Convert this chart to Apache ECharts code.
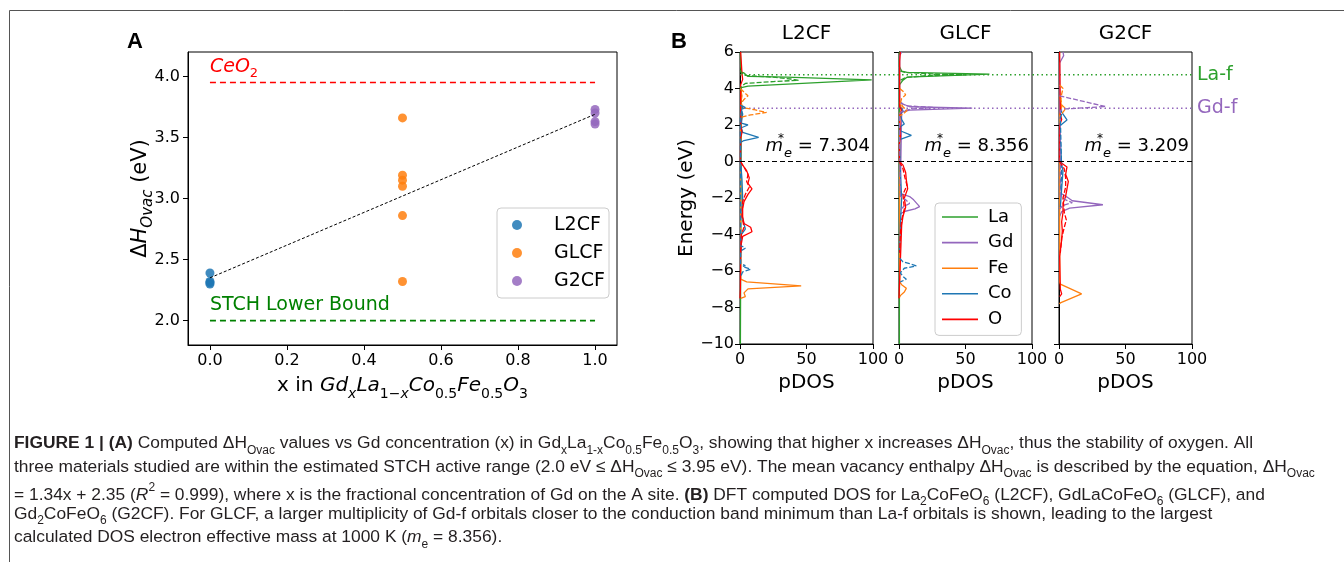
<!DOCTYPE html>
<html>
<head>
<meta charset="utf-8">
<script src="https://cdn.jsdelivr.net/npm/echarts@6/dist/echarts.min.js"></script>
<style>
  html, body { margin: 0; padding: 0; background: #fff; }
  #chart { width: 1344px; height: 562px; }
</style>
</head>
<body>
<div id="chart"></div>
<script>
// ---- panel A: vacancy enthalpy vs Gd fraction ----
const gdFraction = [0, 0.5, 1.0];
const hL2CF = [2.39, 2.32, 2.31, 2.30];
const hGLCF = [3.66, 3.19, 3.15, 3.10, 2.86, 2.32];
const hG2CF = [3.73, 3.70, 3.63, 3.61];
const fitLine = [[0, 2.35], [1, 3.69]];
const ceo2Level = 3.95;
const stchLevel = 2.0;
const xTicksA = [0, 0.2, 0.4, 0.6, 0.8, 1.0];
const yTicksA = [2.0, 2.5, 3.0, 3.5, 4.0];

// ---- panel B: projected DOS, points are [energy, pDOS] ----
const materials = ['L2CF', 'GLCF', 'G2CF'];
const effMass = ['7.304', '8.356', '3.209'];
const laF = 4.75;
const gdF = 2.92;

const l2cf_La_up = [[6, 0.3], [5.2, 0.5], [4.9, 1], [4.85, 3], [4.75, 2], [4.66, 6], [4.62, 35], [4.47, 99], [4.13, 6], [4.05, 1], [3.95, 0.3], [-10, 0.3]];
const l2cf_La_dn = [[5.0, 0.3], [4.85, 1], [4.72, 4], [4.62, 25], [4.52, 38], [4.45, 44], [4.38, 25], [4.28, 4], [4.1, 1], [3.9, 0.3]];
const l2cf_Fe_up = [[4.0, 0.3], [3.6, 1.5], [3.2, 0.5], [-6.45, 0.5], [-6.5, 1], [-6.6, 5], [-6.81, 46], [-6.98, 6], [-7.2, 3], [-7.4, 4], [-7.5, 0.5]];
const l2cf_Fe_dn = [[4.0, 0.3], [3.8, 3], [3.6, 6], [3.4, 3], [3.2, 1], [2.95, 2], [2.85, 10], [2.69, 20], [2.55, 8], [2.45, 2], [2.3, 0.3]];
const l2cf_Co_up = [[3.1, 0.5], [2.95, 4], [2.85, 1], [2.6, 2], [2.1, 1], [2.0, 6], [1.85, 1], [1.6, 2], [1.32, 14], [1.15, 3], [1.05, 0.5], [0, 0.5], [-1, 1.5], [-2, 2], [-3, 1.5], [-3.7, 4], [-4, 1], [-5, 0.5]];
const l2cf_Co_dn = [[3.1, 0.3], [3.0, 2], [2.7, 1], [2.4, 0.3], [-4.6, 0.5], [-4.75, 4], [-4.9, 0.5], [-5.6, 0.5], [-5.7, 4], [-5.75, 2], [-5.9, 8], [-6.05, 2], [-6.3, 0.5]];
const l2cf_O_up = [[6, 0.5], [4.8, 1.5], [4.5, 2], [4.2, 0.5], [2.0, 0.5], [1.6, 1.5], [1.3, 0.5], [0.0, 0.3], [-0.2, 2], [-0.5, 5], [-0.9, 7], [-1.2, 6], [-1.5, 9], [-1.8, 6], [-2.2, 3], [-2.6, 2], [-3.0, 2], [-3.4, 3], [-3.6, 8], [-3.85, 9], [-4.1, 2], [-4.5, 1], [-5, 0.5], [-7, 0.3], [-7.5, 0]];
const l2cf_O_dn = [[0, 0.3], [-0.3, 3], [-0.7, 6], [-1.1, 5], [-1.4, 7], [-1.8, 4], [-2.2, 2], [-3, 1.5], [-3.6, 3], [-4, 1], [-5, 0.5]];

const glcf_La_up = [[6, 0.3], [5.2, 0.3], [4.95, 2], [4.88, 6], [4.79, 68], [4.62, 6], [4.46, 3], [4.2, 0.3], [-10, 0.3]];
const glcf_La_dn = [[4.95, 1], [4.88, 5], [4.8, 25], [4.75, 50], [4.7, 20], [4.6, 5], [4.45, 1]];
const glcf_Gd_up = [[6, 2], [5.8, 0.5], [3.3, 0.5], [3.15, 3], [3.0, 8], [2.92, 55], [2.82, 8], [2.7, 2], [2.6, 0.5], [-1.75, 1], [-1.92, 8], [-2.1, 11], [-2.47, 15.5], [-2.6, 12], [-2.74, 4], [-2.9, 0.5]];
const glcf_Gd_dn = [[3.2, 1], [3.05, 6], [2.95, 28], [2.88, 10], [2.75, 2], [2.6, 0.3], [-1.9, 1], [-2.1, 5], [-2.3, 8], [-2.5, 3], [-2.7, 0.5]];
const glcf_Fe_up = [[3.2, 0.3], [2.9, 2], [2.6, 0.5], [-6.6, 0.5], [-6.75, 2], [-6.95, 5.5], [-7.15, 4], [-7.35, 1], [-7.45, 0.3]];
const glcf_Fe_dn = [[4.0, 0.5], [3.85, 3], [3.65, 5], [3.45, 2], [3.2, 1], [3.0, 3], [2.8, 6], [2.6, 3], [2.5, 0.5]];
const glcf_Co_up = [[3.0, 0.5], [2.8, 3], [2.55, 1], [2.3, 2], [2.05, 4], [1.9, 1], [1.7, 0.5], [1.43, 9.3], [1.2, 0.5], [-0.5, 1], [-2, 2], [-3.5, 1], [-5, 0.5]];
const glcf_Co_dn = [[-5.3, 0.5], [-5.5, 3], [-5.6, 8], [-5.72, 13], [-5.85, 4], [-6.1, 1], [-6.3, 3], [-6.45, 5.5], [-6.6, 1]];
const glcf_O_up = [[6, 1], [5.5, 0.5], [3.0, 0.5], [2.8, 2], [2.5, 0.5], [1.3, 1], [1.0, 0.3], [0, 0.3], [-0.2, 3], [-0.6, 5], [-1.0, 5.5], [-1.5, 6.5], [-2.0, 4], [-2.5, 5], [-3.0, 3], [-3.5, 2], [-4.5, 1.5], [-5.5, 1], [-6.5, 0.5], [-7.5, 0]];
const glcf_O_dn = [[0, 0.3], [-0.4, 3], [-0.9, 4.5], [-1.3, 6], [-1.8, 3], [-2.6, 4], [-3.2, 2], [-4, 1], [-5, 0.5]];

const g2cf_Gd_up = [[6, 3], [5.8, 3.5], [5.6, 2], [5.4, 0.5], [-1.7, 0.5], [-1.95, 6], [-2.15, 10], [-2.37, 33], [-2.55, 8], [-2.75, 2], [-3, 0.5]];
const g2cf_Gd_dn = [[3.6, 0.3], [3.56, 1], [3.01, 35], [2.88, 5], [2.8, 1], [-1.9, 1], [-2.1, 5], [-2.25, 10], [-2.4, 3], [-2.6, 0.5]];
const g2cf_Fe_up = [[3.6, 0.5], [3.0, 2], [2.6, 0.5], [-6.6, 0.5], [-6.72, 1], [-7.25, 17], [-7.75, 1], [-7.8, 0.3]];
const g2cf_Fe_dn = [[4.2, 0.5], [4.0, 3], [3.7, 2], [3.4, 1.5], [3.1, 2], [2.9, 5], [2.7, 3], [2.5, 1]];
const g2cf_Co_up = [[2.9, 1], [2.7, 2], [2.28, 6], [2.1, 3], [1.95, 0.5], [-0.2, 2], [-0.5, 3], [-1.5, 2], [-2.5, 1]];
const g2cf_Co_dn = [[2.6, 2], [2.4, 1], [-0.5, 2], [-1.5, 1.5]];
const g2cf_O_up = [[6, 0.5], [2.6, 1], [2.3, 2], [2.0, 0.5], [0, 0.3], [-0.3, 6], [-0.7, 5], [-1.1, 7], [-1.5, 6], [-1.9, 5], [-2.3, 3], [-2.8, 3], [-3.3, 2], [-3.8, 2.5], [-4.3, 2], [-4.9, 1], [-5.2, 0.5], [-7.0, 1], [-7.25, 2], [-7.4, 0.5]];
const g2cf_O_dn = [[0, 0.3], [-0.4, 4], [-0.9, 5], [-1.4, 5], [-2, 3], [-2.8, 4], [-3.2, 5.5], [-3.6, 4], [-4.2, 2], [-5, 1]];

const elements = ['La', 'Gd', 'Fe', 'Co', 'O'];
const elColors = { La: '#2ca02c', Gd: '#9467bd', Fe: '#ff7f0e', Co: '#1f77b4', O: '#ff0000' };

// panel, element, solid (up) curve, dashed (down) curve
const dosCurves = [
  [0, 'La', l2cf_La_up, l2cf_La_dn],
  [0, 'Fe', l2cf_Fe_up, l2cf_Fe_dn],
  [0, 'Co', l2cf_Co_up, l2cf_Co_dn],
  [0, 'O', l2cf_O_up, l2cf_O_dn],
  [1, 'La', glcf_La_up, glcf_La_dn],
  [1, 'Gd', glcf_Gd_up, glcf_Gd_dn],
  [1, 'Fe', glcf_Fe_up, glcf_Fe_dn],
  [1, 'Co', glcf_Co_up, glcf_Co_dn],
  [1, 'O', glcf_O_up, glcf_O_dn],
  [2, 'Gd', g2cf_Gd_up, g2cf_Gd_dn],
  [2, 'Fe', g2cf_Fe_up, g2cf_Fe_dn],
  [2, 'Co', g2cf_Co_up, g2cf_Co_dn],
  [2, 'O', g2cf_O_up, g2cf_O_dn]
];

const FONT = 'DejaVu Sans';
const minus = v => String(v).replace('-', '\u2212');

const chart = echarts.init(document.getElementById('chart'), null, { renderer: 'canvas' });

const dosLeft = [740, 899, 1059];
const grids = [
  { left: 188, top: 52, width: 429, height: 293 },
  ...dosLeft.map(l => ({ left: l, top: 52, width: 133, height: 292 })),
  { left: 740, top: 52, width: 452, height: 292 }
].map(g => Object.assign({ show: g.width !== 452, borderColor: '#000', borderWidth: 1, backgroundColor: 'transparent', containLabel: false }, g));

const tickStyle = { show: true, length: 5, lineStyle: { color: '#000', width: 1 } };
const labelStyle = { color: '#000', fontFamily: FONT, fontSize: 16 };
const lineAxis = { onZero: false, lineStyle: { color: '#000' } };

const richMain = (size, extra) => Object.assign({ fontFamily: FONT, fontSize: size, color: '#000', lineHeight: 30, verticalAlign: 'middle' }, extra || {});
const richSub = (size, extra) => Object.assign({ fontFamily: FONT, fontSize: size, color: '#000', lineHeight: 14, verticalAlign: 'bottom' }, extra || {});

const xAxes = [
  {
    gridIndex: 0, type: 'value', min: -0.057, max: 1.057,
    axisLine: lineAxis,
    axisTick: Object.assign({ customValues: xTicksA }, tickStyle),
    axisLabel: Object.assign({ customValues: xTicksA, formatter: v => v.toFixed(1), margin: 8 }, labelStyle),
    splitLine: { show: false },
    name: '{n|x in }{i|Gd}{si|x}{i|La}{s|1\u2212}{si|x}{i|Co}{s|0.5}{i|Fe}{s|0.5}{i|O}{s|3}',
    nameLocation: 'middle', nameGap: 26,
    nameTextStyle: {
      rich: {
        n: richMain(20), i: richMain(20, { fontStyle: 'italic' }),
        s: richSub(14), si: richSub(14, { fontStyle: 'italic' })
      }
    }
  },
  ...materials.map((m, k) => ({
    gridIndex: k + 1, type: 'value', min: 0, max: 100, interval: 50,
    axisLine: lineAxis,
    axisTick: tickStyle,
    axisLabel: Object.assign({ showMinLabel: true, showMaxLabel: true, margin: 8 }, labelStyle),
    splitLine: { show: false },
    name: 'pDOS', nameLocation: 'middle', nameGap: 29,
    nameTextStyle: { fontFamily: FONT, fontSize: 20, color: '#000' }
  })),
  { gridIndex: 4, type: 'value', min: 0, max: 1, show: false }
];

const yAxes = [
  {
    gridIndex: 0, type: 'value', min: 1.8, max: 4.2,
    axisLine: lineAxis,
    axisTick: Object.assign({ customValues: yTicksA }, tickStyle),
    axisLabel: Object.assign({ customValues: yTicksA, formatter: v => v.toFixed(1), margin: 8 }, labelStyle),
    splitLine: { show: false },
    name: '{n|\u0394}{i|H}{si|Ovac}{n| (eV)}',
    nameLocation: 'middle', nameGap: 32, nameRotate: 90, nameMoveOverlap: false,
    nameTextStyle: {
      rich: {
        n: richMain(21), i: richMain(21, { fontStyle: 'italic' }),
        si: richSub(15, { fontStyle: 'italic' })
      }
    }
  },
  ...materials.map((m, k) => ({
    gridIndex: k + 1, type: 'value', min: -10, max: 6, interval: 2,
    axisLine: lineAxis,
    axisTick: tickStyle,
    axisLabel: Object.assign({ show: k === 0, formatter: minus, margin: 6 }, labelStyle),
    splitLine: { show: false },
    name: k === 0 ? 'Energy (eV)' : '', nameLocation: 'middle', nameGap: 40,
    nameTextStyle: { fontFamily: FONT, fontSize: 20, color: '#000' }
  })),
  { gridIndex: 4, type: 'value', min: -10, max: 6, show: false }
];

const series = [];

// panel A lines
series.push({
  type: 'line', name: 'CeO2', xAxisIndex: 0, yAxisIndex: 0, symbol: 'none', silent: true,
  data: [[0, ceo2Level], [1, ceo2Level]],
  lineStyle: { color: '#ff0000', width: 1.6, type: [6, 4] },
  markPoint: {
    symbol: 'circle', symbolSize: 0, silent: true,
    data: [{ coord: [0, ceo2Level] }],
    label: {
      show: true, position: [0, -2], align: 'left', verticalAlign: 'bottom',
      formatter: '{i|CeO}{s|2}',
      rich: {
        i: richMain(19, { color: '#ff0000', fontStyle: 'italic', lineHeight: 26 }),
        s: richSub(13, { color: '#ff0000', lineHeight: 13 })
      }
    }
  }
});
series.push({
  type: 'line', name: 'STCH', xAxisIndex: 0, yAxisIndex: 0, symbol: 'none', silent: true,
  data: [[0, stchLevel], [1, stchLevel]],
  lineStyle: { color: '#008000', width: 1.6, type: [6, 4] },
  markPoint: {
    symbol: 'circle', symbolSize: 0, silent: true,
    data: [{ coord: [0, stchLevel] }],
    label: {
      show: true, position: [0, -6], align: 'left', verticalAlign: 'bottom',
      formatter: 'STCH Lower Bound', color: '#008000', fontFamily: FONT, fontSize: 19
    }
  }
});
series.push({
  type: 'line', name: 'fit', xAxisIndex: 0, yAxisIndex: 0, symbol: 'none', silent: true,
  data: fitLine, lineStyle: { color: '#000', width: 1, type: [3, 2] }, z: 3
});
[['L2CF', hL2CF, gdFraction[0], '#1f77b4'], ['GLCF', hGLCF, gdFraction[1], '#ff7f0e'], ['G2CF', hG2CF, gdFraction[2], '#9467bd']]
  .forEach(([name, vals, x, color]) => {
    series.push({
      type: 'scatter', name, xAxisIndex: 0, yAxisIndex: 0, symbolSize: 9,
      itemStyle: { color, opacity: 0.85 }, z: 2,
      data: vals.map(v => [x, v])
    });
  });

// panel B curves: solid first so the legend picks them up
['up', 'dn'].forEach(spin => {
  elements.forEach(el => {
    dosCurves.filter(c => c[1] === el).forEach(([p, , up, dn]) => {
      const pts = spin === 'up' ? up : dn;
      series.push({
        type: 'line', name: spin === 'up' ? el : el + ' dn',
        xAxisIndex: p + 1, yAxisIndex: p + 1, symbol: 'none', silent: true,
        data: pts.map(([e, d]) => [d, e]),
        itemStyle: { color: elColors[el] },
        lineStyle: { color: elColors[el], width: 1.3, type: spin === 'up' ? 'solid' : [5, 2] }
      });
    });
  });
});

// Fermi level and effective mass per panel
materials.forEach((m, k) => {
  series.push({
    type: 'line', name: 'EF' + k, xAxisIndex: k + 1, yAxisIndex: k + 1, symbol: 'none', silent: true,
    data: [[0, 0], [100, 0]],
    lineStyle: { color: '#000', width: 1.2, type: [5, 3] }, z: 5,
    markPoint: {
      symbol: 'circle', symbolSize: 0, silent: true,
      data: [{ coord: [100, 0] }],
      label: {
        show: true, position: [-3, -1], align: 'right', verticalAlign: 'bottom',
        formatter: '{i|m}{st|*}{s|e}{n| = ' + effMass[k] + '}',
        rich: {
          i: richMain(18, { fontStyle: 'italic', lineHeight: 28 }),
          st: { fontFamily: FONT, fontSize: 12, color: '#000', verticalAlign: 'top', lineHeight: 12, width: 1 },
          s: richSub(13, { fontStyle: 'italic', lineHeight: 13, width: 8 }),
          n: richMain(18, { lineHeight: 28 })
        }
      }
    }
  });
});

// orbital guide lines across all three DOS panels
[['La-f', laF, '#2ca02c'], ['Gd-f', gdF, '#9467bd']].forEach(([lab, e, color]) => {
  series.push({
    type: 'line', name: lab, xAxisIndex: 4, yAxisIndex: 4, symbol: 'none', silent: true,
    data: [[0, e], [1, e]],
    lineStyle: { color, width: 1.5, type: [1.5, 3] }, z: 1,
    markPoint: {
      symbol: 'circle', symbolSize: 0, silent: true,
      data: [{ coord: [1, e] }],
      label: { show: true, position: [5, 0], align: 'left', verticalAlign: 'middle', formatter: lab, color, fontFamily: FONT, fontSize: 19 }
    }
  });
});

const CAP = 'Liberation Sans';
const capRich = {
  n: { fontFamily: CAP, fontSize: 17.4, fill: '#231f20', lineHeight: 26, verticalAlign: 'middle' },
  b: { fontFamily: CAP, fontSize: 17.4, fontWeight: 'bold', fill: '#231f20', lineHeight: 26, verticalAlign: 'middle' },
  i: { fontFamily: CAP, fontSize: 17.4, fontStyle: 'italic', fill: '#231f20', lineHeight: 26, verticalAlign: 'middle' },
  s: { fontFamily: CAP, fontSize: 12, fill: '#231f20', lineHeight: 12, verticalAlign: 'bottom' },
  p: { fontFamily: CAP, fontSize: 12, fill: '#231f20', lineHeight: 12, verticalAlign: 'top' }
};
const captionLines = [
  '{b|FIGURE 1 | (A)}{n| Computed \u0394H}{s|Ovac}{n| values vs Gd concentration (x) in Gd}{s|x}{n|La}{s|1-x}{n|Co}{s|0.5}{n|Fe}{s|0.5}{n|O}{s|3}{n|, showing that higher x increases \u0394H}{s|Ovac}{n|, thus the stability of oxygen. All}',
  '{n|three materials studied are within the estimated STCH active range (2.0 eV \u2264 \u0394H}{s|Ovac}{n| \u2264 3.95 eV). The mean vacancy enthalpy \u0394H}{s|Ovac}{n| is described by the equation, \u0394H}{s|Ovac}',
  '{n|= 1.34x + 2.35 (}{i|R}{p|2}{n| = 0.999), where x is the fractional concentration of Gd on the A site. }{b|(B)}{n| DFT computed DOS for La}{s|2}{n|CoFeO}{s|6}{n| (L2CF), GdLaCoFeO}{s|6}{n| (GLCF), and}',
  '{n|Gd}{s|2}{n|CoFeO}{s|6}{n| (G2CF). For GLCF, a larger multiplicity of Gd-f orbitals closer to the conduction band minimum than La-f orbitals is shown, leading to the largest}',
  '{n|calculated DOS electron effective mass at 1000 K (}{i|m}{s|e}{n| = 8.356).}'
];

const graphic = [
  { type: 'line', shape: { x1: 9.5, y1: 10.5, x2: 1344, y2: 10.5 }, style: { stroke: '#555', lineWidth: 1 } },
  { type: 'line', shape: { x1: 9.5, y1: 10.5, x2: 9.5, y2: 562 }, style: { stroke: '#555', lineWidth: 1 } },
  { type: 'text', left: 127, top: 31, style: { text: 'A', fontFamily: 'Liberation Sans', fontWeight: 'bold', fontSize: 22, fill: '#000' } },
  { type: 'text', left: 671, top: 31, style: { text: 'B', fontFamily: 'Liberation Sans', fontWeight: 'bold', fontSize: 22, fill: '#000' } },
  ...captionLines.map((t, i) => ({
    type: 'text', left: 14, top: 435 + i * 23.5,
    style: { text: t, rich: capRich, fontFamily: CAP, fontSize: 17.4, fill: '#231f20' }
  }))
];

chart.setOption({
  animation: false,
  backgroundColor: '#fff',
  title: materials.map((m, k) => ({
    text: m, left: dosLeft[k] + 66.5, top: 24, textAlign: 'center', padding: 0,
    textStyle: { fontFamily: FONT, fontSize: 20, fontWeight: 'normal', color: '#000' }
  })),
  legend: [
    {
      data: ['L2CF', 'GLCF', 'G2CF'], orient: 'vertical', left: 497, top: 208,
      icon: 'circle', itemWidth: 20, itemHeight: 10, itemGap: 8,
      backgroundColor: '#fff', borderColor: '#ccc', borderWidth: 1, borderRadius: 4,
      padding: [7, 4, 7, 15], selectedMode: false,
      textStyle: { fontFamily: FONT, fontSize: 19, color: '#000', lineHeight: 20, padding: [0, 0, 0, 22] }
    },
    {
      data: elements, orient: 'vertical', left: 935, top: 203,
      icon: 'rect', itemWidth: 36, itemHeight: 1.6, itemGap: 5.6,
      backgroundColor: '#fff', borderColor: '#ccc', borderWidth: 1, borderRadius: 4,
      padding: [4, 8, 6, 7], selectedMode: false,
      textStyle: { fontFamily: FONT, fontSize: 18, color: '#000', lineHeight: 20, padding: [0, 0, 0, 5] }
    }
  ],
  grid: grids,
  xAxis: xAxes,
  yAxis: yAxes,
  series,
  graphic
});
</script>
</body>
</html>
